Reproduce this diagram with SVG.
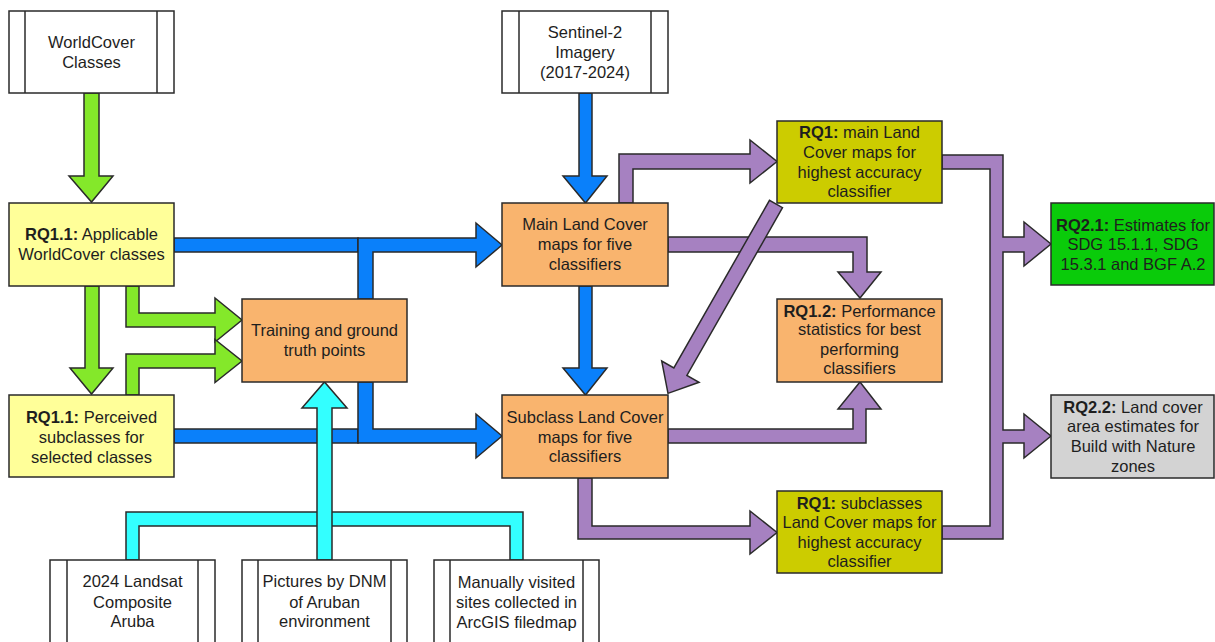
<svg xmlns="http://www.w3.org/2000/svg" width="1215" height="642" viewBox="0 0 1215 642">
<style>
text{font-family:"Liberation Sans",Arial,sans-serif;font-size:16.5px;fill:#1e1e1e;text-anchor:middle}
.b{font-weight:bold}
.box{stroke:#2a2a2a;stroke-width:1.5}
.src{fill:#fff;stroke:#2a2a2a;stroke-width:1.5}
.ln{stroke:#2a2a2a;stroke-width:1.5}
.lt{fill:#FFFF99}
.or{fill:#F9B46E}
.ol{fill:#CCCC00}
.gr{fill:#0ACB0A}
.gy{fill:#D3D3D3}
.cg{fill:#84E82A;stroke:#2a2a2a;stroke-width:1.5;stroke-linejoin:miter}
.cb{fill:#0A80FA;stroke:#2a2a2a;stroke-width:1.5}
.cc{fill:#33FFFF;stroke:#2a2a2a;stroke-width:1.5}
.cp{fill:#A681C1;stroke:#2a2a2a;stroke-width:1.5}
</style>
<rect width="1215" height="642" fill="#fff"/>
<g id="connectors">
  <polygon class="cg" points="84,93 84,176 69,176 91.5,202 113,176 99,176 99,93"/>
  <polygon class="cg" points="85,286 85,368 70,368 91.5,394 113,368 99,368 99,286"/>
  <polygon class="cg" points="126,286 126,327 215,327 215,342 242,320 215,298 215,313 139,313 139,286"/>
  <polygon class="cg" points="126,395 126,354 215,354 215,339.5 242,361 215,382.5 215,368 139,368 139,395"/>
  <polygon class="cb" points="579,93 579,176 563,176 585.5,203 607,176 592,176 592,93"/>
  <polygon class="cb" points="579,286 579,368 563,368 585.5,395 607,368 592,368 592,286"/>
  <rect class="cb" x="174" y="238" width="184" height="14"/>
  <polygon class="cb" points="358,299 358,238 476,238 476,223 502,245 476,267 476,252 373,252 373,299"/>
  <rect class="cb" x="174" y="429" width="184" height="14"/>
  <polygon class="cb" points="358,382 358,443 476,443 476,458 502,436 476,414 476,429 373,429 373,382"/>
  <polygon class="cc" points="126,560 126,512 523,512 523,560 510,560 510,526 139,526 139,560"/>
  <polygon class="cc" points="317,560 317,408 302,408 324.5,382 347,408 332,408 332,560"/>
  <polygon class="cp" points="619,203 619,154 750,154 750,140 777,161.5 750,183 750,169 633,169 633,203"/>
  <polygon class="cp" points="668,237 867,237 867,272 881,272 860,298 838,272 853,272 853,252 668,252"/>
  <polygon class="cp" points="668,429 853,429 853,409 838,409 860,382 881,409 866,409 866,443 668,443"/>
  <polygon class="cp" points="578,478 578,539 750,539 750,554 777,532.5 750,511 750,526 592,526 592,478"/>
  <polygon class="cp" points="942,155 1003,155 1003,237 1024,237 1024,222 1051,244 1024,266 1024,252 1003,252 1003,430 1024,430 1024,414 1051,436 1024,458 1024,443 1003,443 1003,539 942,539 942,526 990,526 990,169 942,169"/>
  <polygon class="cp" transform="translate(776,204) rotate(119.7)" points="0,-7.5 193,-7.5 193,-21.5 218,0 193,21.5 193,7.5 0,7.5"/>
</g>
<g id="worldcover">
  <rect class="src" x="9" y="11" width="165" height="82"/>
  <line class="ln" x1="25" y1="11" x2="25" y2="93"/><line class="ln" x1="157" y1="11" x2="157" y2="93"/>
  <text x="91.5" y="47.5">WorldCover</text><text x="91.5" y="67.5">Classes</text>
</g>
<g id="sentinel">
  <rect class="src" x="502" y="11" width="166" height="82"/>
  <line class="ln" x1="519" y1="11" x2="519" y2="93"/><line class="ln" x1="651" y1="11" x2="651" y2="93"/>
  <text x="585" y="37.5">Sentinel-2</text><text x="585" y="57.5">Imagery</text><text x="585" y="77.5">(2017-2024)</text>
</g>
<g id="rq11-applicable">
  <rect class="box lt" x="9" y="203" width="165" height="83"/>
  <text x="91.5" y="239.5"><tspan class="b">RQ1.1:</tspan> Applicable</text>
  <text x="91.5" y="260">WorldCover classes</text>
</g>
<g id="rq11-perceived">
  <rect class="box lt" x="9" y="395" width="165" height="82"/>
  <text x="91.5" y="422.5"><tspan class="b">RQ1.1:</tspan> Perceived</text>
  <text x="91.5" y="442.5">subclasses for</text>
  <text x="91.5" y="462.5">selected classes</text>
</g>
<g id="training">
  <rect class="box or" x="242" y="299" width="165" height="83"/>
  <text x="324.5" y="335.5">Training and ground</text>
  <text x="324.5" y="355.5">truth points</text>
</g>
<g id="main-lc">
  <rect class="box or" x="502" y="203" width="166" height="83"/>
  <text x="585" y="229.5">Main Land Cover</text>
  <text x="585" y="250">maps for five</text>
  <text x="585" y="269.5">classifiers</text>
</g>
<g id="subclass-lc">
  <rect class="box or" x="502" y="395" width="166" height="83"/>
  <text x="585" y="422.5">Subclass Land Cover</text>
  <text x="585" y="442.5">maps for five</text>
  <text x="585" y="461.5">classifiers</text>
</g>
<g id="rq1-main">
  <rect class="box ol" x="777" y="121" width="165" height="82"/>
  <text x="859.5" y="137.5"><tspan class="b">RQ1:</tspan> main Land</text>
  <text x="859.5" y="157.5">Cover maps for</text>
  <text x="859.5" y="177.5">highest accuracy</text>
  <text x="859.5" y="196.5">classifier</text>
</g>
<g id="rq12">
  <rect class="box or" x="777" y="299" width="165" height="83"/>
  <text x="859.5" y="316.5"><tspan class="b">RQ1.2:</tspan> Performance</text>
  <text x="859.5" y="335">statistics for best</text>
  <text x="859.5" y="354.5">performing</text>
  <text x="859.5" y="374">classifiers</text>
</g>
<g id="rq1-sub">
  <rect class="box ol" x="777" y="491" width="165" height="82"/>
  <text x="859.5" y="508.5"><tspan class="b">RQ1:</tspan> subclasses</text>
  <text x="859.5" y="527.5">Land Cover maps for</text>
  <text x="859.5" y="548">highest accuracy</text>
  <text x="859.5" y="567">classifier</text>
</g>
<g id="rq21">
  <rect class="box gr" x="1051" y="203" width="163" height="82"/>
  <text x="1133" y="230.5"><tspan class="b">RQ2.1:</tspan> Estimates for</text>
  <text x="1133" y="249.5">SDG 15.1.1, SDG</text>
  <text x="1133" y="269.5">15.3.1 and BGF A.2</text>
</g>
<g id="rq22">
  <rect class="box gy" x="1051" y="395" width="163" height="83"/>
  <text x="1133" y="412.5"><tspan class="b">RQ2.2:</tspan> Land cover</text>
  <text x="1133" y="431.5">area estimates for</text>
  <text x="1133" y="451.5">Build with Nature</text>
  <text x="1133" y="471.5">zones</text>
</g>
<g id="landsat">
  <rect class="src" x="50" y="560" width="165" height="83"/>
  <line class="ln" x1="67" y1="560" x2="67" y2="643"/><line class="ln" x1="198" y1="560" x2="198" y2="643"/>
  <text x="132.5" y="586.5">2024 Landsat</text><text x="132.5" y="607.5">Composite</text><text x="132.5" y="626.5">Aruba</text>
</g>
<g id="pictures">
  <rect class="src" x="242" y="560" width="165" height="83"/>
  <line class="ln" x1="258" y1="560" x2="258" y2="643"/><line class="ln" x1="391" y1="560" x2="391" y2="643"/>
  <text x="324.5" y="586.5">Pictures by DNM</text><text x="324.5" y="607.5">of Aruban</text><text x="324.5" y="626.5">environment</text>
</g>
<g id="manual">
  <rect class="src" x="434" y="560" width="165" height="83"/>
  <line class="ln" x1="450" y1="560" x2="450" y2="643"/><line class="ln" x1="583" y1="560" x2="583" y2="643"/>
  <text x="516.5" y="587.5" font-size="16">Manually visited</text><text x="516.5" y="607.5" font-size="16">sites collected in</text><text x="516.5" y="627.5" font-size="16">ArcGIS filedmap</text>
</g>
</svg>
